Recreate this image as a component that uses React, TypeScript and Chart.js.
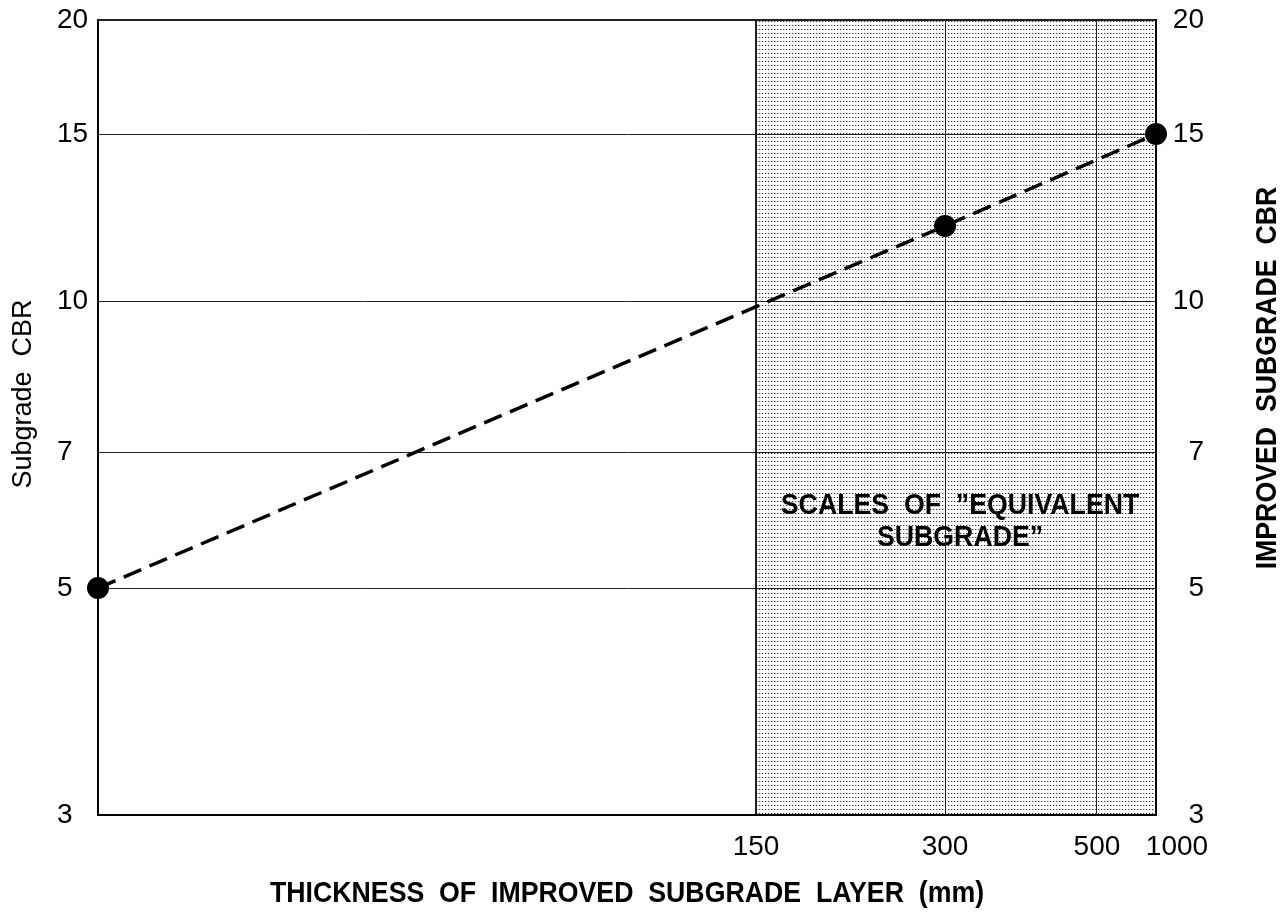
import React, { useEffect, useRef } from 'react';
import { Chart, registerables, LinearScale } from 'chart.js';

Chart.register(...registerables);

// ---------- data ----------
const thicknessTicks = [150, 300, 500, 1000];
const thicknessTickLabels = ['150', '300', '500', '\u2002\u2002\u20021000'];
const thicknessBreaks = [0, 150, 300, 500, 1000];
const thicknessBreakFractions = [0, 0.622, 0.8006, 0.9442, 1];

const cbrTicks = [3, 5, 7, 10, 15, 20];
const cbrTickLabels = ['3', '5', '7', '10', '15', '20'];
const cbrBreakFractions = [0, 0.2855, 0.4566, 0.6465, 0.8566, 1];

const thicknessValues = [0, 300, 1000];
const cbrValues = [5, 12, 15];

const shadedFrom = 150;
const shadedTo = 1000;

const leftTitle = 'Subgrade  CBR';
const rightTitle = 'IMPROVED  SUBGRADE  CBR';
const xTitle = 'THICKNESS  OF  IMPROVED  SUBGRADE  LAYER  (mm)';
const noteLines = ['SCALES  OF  \u201DEQUIVALENT', 'SUBGRADE\u201D'];

// ---------- piecewise scale ----------
const BREAKS: Record<string, any> = {
  x: { values: thicknessBreaks, fractions: thicknessBreakFractions, log: false, ticks: thicknessTicks },
  y: { values: cbrTicks, fractions: cbrBreakFractions, log: true, ticks: cbrTicks },
  y2: { values: cbrTicks, fractions: cbrBreakFractions, log: true, ticks: cbrTicks },
};

function toFraction(v: number, b: any) {
  const vals = b.values, frs = b.fractions, n = vals.length;
  let i = 0;
  while (i < n - 2 && v > vals[i + 1]) i++;
  const a = vals[i], c = vals[i + 1];
  const t = b.log ? Math.log(v / a) / Math.log(c / a) : (v - a) / (c - a);
  return frs[i] + t * (frs[i + 1] - frs[i]);
}
function fromFraction(d: number, b: any) {
  const vals = b.values, frs = b.fractions, n = frs.length;
  let i = 0;
  while (i < n - 2 && d > frs[i + 1]) i++;
  const t = (d - frs[i]) / (frs[i + 1] - frs[i]);
  const a = vals[i], c = vals[i + 1];
  return b.log ? a * Math.pow(c / a, t) : a + t * (c - a);
}

class BreakScale extends (LinearScale as any) {
  static id = 'breaks';
  static defaults = (LinearScale as any).defaults;
  buildTicks() {
    const b = BREAKS[(this as any).id];
    return b.ticks.map((v: number) => ({ value: v }));
  }
  getPixelForValue(value: number) {
    if (value === null || value === undefined || isNaN(value)) return NaN;
    return (this as any).getPixelForDecimal(toFraction(value, BREAKS[(this as any).id]));
  }
  getValueForPixel(pixel: number) {
    return fromFraction((this as any).getDecimalForPixel(pixel), BREAKS[(this as any).id]);
  }
}
Chart.register(BreakScale as any);

// ---------- drawing helpers ----------
const TICK_FONT = { family: '"Liberation Sans", Arial, sans-serif', size: 28 };
const BOLD_FONT = 'bold 30px "Liberation Sans", Arial, sans-serif';
const SQUEEZE = 0.89;

function drawText(ctx: CanvasRenderingContext2D, text: string, x: number, y: number, rot: number, font: string, squeeze: number) {
  ctx.save();
  ctx.translate(x, y);
  ctx.rotate(rot);
  ctx.scale(squeeze, 1);
  ctx.font = font;
  ctx.textAlign = 'center';
  ctx.textBaseline = 'middle';
  ctx.fillStyle = '#000';
  ctx.fillText(text, 0, 0);
  ctx.restore();
}

function makePattern(ctx: CanvasRenderingContext2D) {
  const pc = document.createElement('canvas');
  pc.width = 3;
  pc.height = 4;
  const p = pc.getContext('2d')!;
  p.fillStyle = '#fff';
  p.fillRect(0, 0, 3, 4);
  p.fillStyle = '#3a3a3a';
  p.fillRect(0, 1, 1, 1);
  p.fillStyle = '#b8b8b8';
  p.fillRect(1, 1, 1, 1);
  return ctx.createPattern(pc, 'repeat');
}

const shadePlugin = {
  id: 'shade',
  beforeDraw(chart: any) {
    const { ctx, chartArea } = chart;
    const xs = chart.scales.x;
    const x0 = xs.getPixelForValue(shadedFrom);
    const x1 = xs.getPixelForValue(shadedTo);
    ctx.save();
    ctx.fillStyle = makePattern(ctx) || '#ddd';
    ctx.fillRect(x0, chartArea.top, x1 - x0, chartArea.bottom - chartArea.top);
    ctx.restore();
  },
};

const titlePlugin = {
  id: 'titles',
  afterDraw(chart: any) {
    const { ctx, chartArea } = chart;
    const cx = (chartArea.left + chartArea.right) / 2;
    drawText(ctx, leftTitle, 24, 394, -Math.PI / 2, '27px "Liberation Sans", Arial, sans-serif', 1);
    drawText(ctx, rightTitle, 1268, 378, -Math.PI / 2, BOLD_FONT, SQUEEZE);
    drawText(ctx, xTitle, cx, 894, 0, BOLD_FONT, SQUEEZE);
    const xs = chart.scales.x;
    const nx = (xs.getPixelForValue(shadedFrom) + xs.getPixelForValue(shadedTo)) / 2 + 4;
    drawText(ctx, noteLines[0], nx, 506, 0, BOLD_FONT, SQUEEZE);
    drawText(ctx, noteLines[1], nx, 538, 0, BOLD_FONT, SQUEEZE);
  },
};

export default function App() {
  const ref = useRef<HTMLCanvasElement>(null);
  useEffect(() => {
    if (!ref.current) return;
    const chart = new Chart(ref.current, {
      type: 'line',
      data: {
        datasets: [
          {
            data: thicknessValues.map((t, i) => ({ x: t, y: cbrValues[i] })),
            borderColor: '#000',
            borderWidth: 3.5,
            borderDash: [19, 9],
            pointRadius: 11,
            pointBackgroundColor: '#000',
            pointBorderWidth: 0,
            tension: 0,
            clip: false as any,
          },
        ],
      },
      options: {
        animation: false,
        responsive: false,
        devicePixelRatio: 1,
        layout: { padding: { left: 57, right: 82, top: 20, bottom: 0 } },
        plugins: { legend: { display: false }, tooltip: { enabled: false } },
        scales: {
          x: {
            type: 'breaks' as any,
            position: 'bottom',
            min: 0,
            max: 1000,
            afterFit: (s: any) => { s.height = 97; },
            grid: {
              color: '#222',
              lineWidth: (c: any) => (c.tick && c.tick.value === shadedFrom ? 2 : 1),
              drawTicks: false,
            },
            border: { display: true, color: '#000', width: 2 },
            ticks: {
              autoSkip: false,
              maxRotation: 0,
              padding: 15,
              color: '#000',
              font: TICK_FONT,
              callback: (v: any) => thicknessTickLabels[thicknessTicks.indexOf(Number(v))] ?? '',
            },
          } as any,
          y: {
            type: 'breaks' as any,
            position: 'left',
            min: 3,
            max: 20,
            afterFit: (s: any) => { s.width = 41; },
            grid: {
              color: '#222',
              lineWidth: (c: any) => (c.tick && c.tick.value === 20 ? 2 : 1),
              drawTicks: false,
            },
            border: { display: true, color: '#000', width: 2 },
            ticks: {
              autoSkip: false,
              crossAlign: 'far',
              padding: 0,
              color: '#000',
              font: TICK_FONT,
              callback: (v: any) => cbrTickLabels[cbrTicks.indexOf(Number(v))] ?? '',
            },
          } as any,
          y2: {
            type: 'breaks' as any,
            position: 'right',
            min: 3,
            max: 20,
            afterFit: (s: any) => { s.width = 48; },
            grid: { display: false, drawTicks: false },
            border: { display: true, color: '#000', width: 2 },
            ticks: {
              autoSkip: false,
              crossAlign: 'far',
              padding: 0,
              color: '#000',
              font: TICK_FONT,
              callback: (v: any) => cbrTickLabels[cbrTicks.indexOf(Number(v))] ?? '',
            },
          } as any,
        },
      },
      plugins: [shadePlugin, titlePlugin],
    });
    return () => chart.destroy();
  }, []);
  return (
    <div style={{ position: 'absolute', left: 0, top: 0, width: 1286, height: 912, background: '#fff' }}>
      <canvas ref={ref} width={1286} height={912} style={{ display: 'block' }} />
    </div>
  );
}
